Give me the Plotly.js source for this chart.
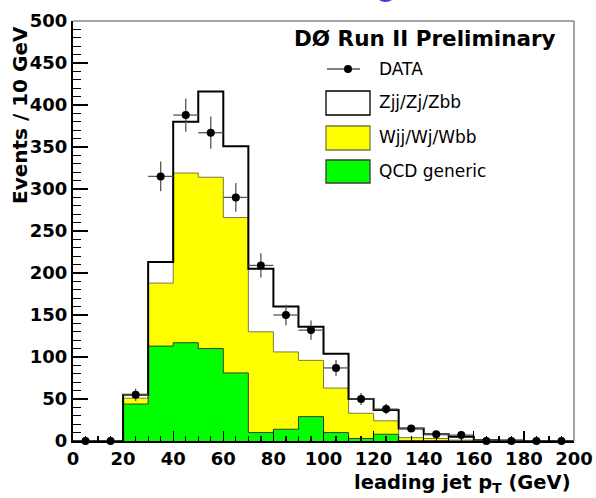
<!DOCTYPE html>
<html>
<head>
<meta charset="utf-8">
<script src="https://cdn.plot.ly/plotly-3.0.1.min.js"></script>
<style>html,body{margin:0;padding:0;background:#fff;}#chart{width:596px;height:498px;}</style>
</head>
<body>
<div id="chart"></div>
<script>
// ---- data ----
const binLow = [0,10,20,30,40,50,60,70,80,90,100,110,120,130,140,150,160,170,180,190];
const binWidth = 10;
const qcd   = [0,0,44,113,117,110,81,10,14,29,10,3,8,0.5,0.5,0,0,0,0,0];
const wjets = [0,0,7,75,202,204,185,120,92,67,53,30,16,3.5,2.5,1,0.5,0,0,0];
const zjets = [0,0,4,25,61,102,85,75,54,40,41,17,13,11,5,4,0.5,0.5,0,0];
const dataCounts = [0,0,55,315,388,367,290,209,150,132,87,50,38,15,8,7,0,0,0,0];
const dataErr    = [0,0,7.4,17.7,19.7,19.2,17,14.5,12.2,11.5,9.3,7.1,6.2,3.9,2.8,2.6,0,0,0,0];
const xTicks = [0,20,40,60,80,100,120,140,160,180,200];
const yTicks = [0,50,100,150,200,250,300,350,400,450,500];
const legendLabels = ["DATA","Zjj/Zj/Zbb","Wjj/Wj/Wbb","QCD generic"];
const headerText = "DØ Run II Preliminary";

// ---- build stacked step curves ----
const edges = binLow.concat([binLow[binLow.length-1] + binWidth]);
const stackQ = qcd.slice();
const stackW = qcd.map((v,i) => v + wjets[i]);
const stackT = stackW.map((v,i) => v + zjets[i]);
const stepY = arr => arr.concat([arr[arr.length-1]]);
const centers = binLow.map(v => v + binWidth/2);

const traces = [
  {x: edges, y: stepY(stackT), mode:'lines', line:{shape:'hv', width:0, color:'rgba(0,0,0,0)'}, fill:'tozeroy', fillcolor:'#ffffff', hoverinfo:'skip', showlegend:false},
  {x: edges, y: stepY(stackW), mode:'lines', line:{shape:'hv', width:1, color:'#7a7a40'}, fill:'tozeroy', fillcolor:'#ffff00', showlegend:false},
  {x: edges, y: stepY(stackQ), mode:'lines', line:{shape:'hv', width:1, color:'#3a3a3a'}, fill:'tozeroy', fillcolor:'#00ff00', showlegend:false},
  {x: edges, y: stepY(stackT), mode:'lines', line:{shape:'hv', width:2, color:'#000000'}, showlegend:false},
  {x: centers, y: dataCounts, mode:'markers', marker:{color:'#000', size:8},
   error_y:{type:'data', array:dataErr, visible:true, thickness:1.3, width:0, color:'#555'},
   error_x:{type:'constant', value:binWidth/2, visible:true, thickness:1.3, width:0, color:'#555'},
   cliponaxis:false, showlegend:false}
];

// pixel -> paper helpers (plot area: x 73..574, y 21..441)
const L=73, R=574, T=21, B=441;
const px = v => (v - L)/(R - L);
const py = v => (B - v)/(B - T);

const shapes = [
  {type:'line', xref:'paper', yref:'paper', x0:0, x1:1, y0:1, y1:1, line:{color:'#888', width:1.5}},
  {type:'line', xref:'paper', yref:'paper', x0:1, x1:1, y0:0, y1:1, line:{color:'#888', width:1.5}},
  // legend symbols
  {type:'line', xref:'paper', yref:'paper', x0:px(327), x1:px(360), y0:py(69), y1:py(69), line:{color:'#000', width:1}},
  {type:'circle', xref:'paper', yref:'paper', x0:px(344), x1:px(352), y0:py(73), y1:py(65), fillcolor:'#000', line:{color:'#000', width:0}},
  {type:'rect', xref:'paper', yref:'paper', x0:px(326), x1:px(370), y0:py(115), y1:py(91), fillcolor:'#fff', line:{color:'#000', width:1.3}},
  {type:'rect', xref:'paper', yref:'paper', x0:px(326), x1:px(370), y0:py(150), y1:py(126), fillcolor:'#ffff00', line:{color:'#7a7a40', width:1.3}},
  {type:'rect', xref:'paper', yref:'paper', x0:px(326), x1:px(370), y0:py(183), y1:py(160), fillcolor:'#00ff00', line:{color:'#3a3a3a', width:1.3}},
  // cropped blue logo edge at the top
  {type:'circle', xref:'paper', yref:'paper', x0:px(377), x1:px(394), y0:py(2), y1:py(-10), fillcolor:'#3a3ae0', line:{width:0}}
];

const bold = {family:'DejaVu Sans', weight:700, color:'#000'};
const annotations = [
  {xref:'paper', yref:'paper', x:px(425), y:py(39), text:headerText, showarrow:false, xanchor:'center', yanchor:'middle', font:Object.assign({size:21.5}, bold)},
  {xref:'paper', yref:'paper', x:px(377), y:py(69), text:legendLabels[0], showarrow:false, xanchor:'left', yanchor:'middle', font:{family:'DejaVu Sans', size:17, color:'#000'}},
  {xref:'paper', yref:'paper', x:px(377), y:py(102), text:legendLabels[1], showarrow:false, xanchor:'left', yanchor:'middle', font:{family:'DejaVu Sans', size:17, color:'#000'}},
  {xref:'paper', yref:'paper', x:px(377), y:py(137), text:legendLabels[2], showarrow:false, xanchor:'left', yanchor:'middle', font:{family:'DejaVu Sans', size:17, color:'#000'}},
  {xref:'paper', yref:'paper', x:px(377), y:py(171), text:legendLabels[3], showarrow:false, xanchor:'left', yanchor:'middle', font:{family:'DejaVu Sans', size:17, color:'#000'}},
  {xref:'paper', yref:'paper', x:px(20), y:py(115), text:'Events / 10 GeV', textangle:-90, showarrow:false, xanchor:'center', yanchor:'middle', font:Object.assign({size:20}, bold)},
  {xref:'paper', yref:'paper', x:px(573), y:py(483), text:'leading jet p<sub>T</sub> (GeV)', showarrow:false, xanchor:'right', yanchor:'middle', font:Object.assign({size:19.5}, bold)}
];

const layout = {
  width:596, height:498,
  margin:{l:L, r:596-R, t:T, b:498-B, pad:0},
  paper_bgcolor:'#fff', plot_bgcolor:'#fff',
  showlegend:false,
  xaxis:{range:[0,200], tickvals:xTicks, ticktext:xTicks.map(String), ticks:'inside', ticklen:10, tickwidth:1.3, tickcolor:'#000',
         minor:{dtick:5, ticks:'inside', ticklen:5, tickwidth:1.3, tickcolor:'#000'},
         showline:true, linecolor:'#000', linewidth:2, showgrid:false, zeroline:false,
         tickfont:Object.assign({size:18}, bold), fixedrange:true},
  yaxis:{range:[0,500], tickvals:yTicks, ticktext:yTicks.map(String), ticks:'inside', ticklen:15, tickwidth:1.3, tickcolor:'#000',
         minor:{dtick:10, ticks:'inside', ticklen:8, tickwidth:1.3, tickcolor:'#000'},
         showline:true, linecolor:'#000', linewidth:2, showgrid:false, zeroline:false,
         tickfont:Object.assign({size:18}, bold), fixedrange:true},
  shapes:shapes,
  annotations:annotations
};

Plotly.newPlot('chart', traces, layout, {staticPlot:true, displayModeBar:false});
</script>
</body>
</html>
